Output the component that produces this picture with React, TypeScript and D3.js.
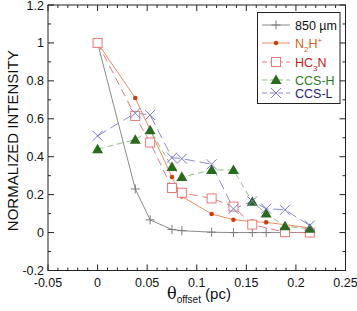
import React from "react";
import * as d3 from "d3";

// offsets (pc) for each series
const xAll = [0, 0.038, 0.053, 0.075, 0.085, 0.115, 0.137, 0.156, 0.17, 0.189, 0.214];
const x850 = xAll;
const y850 = [1, 0.23, 0.067, 0.016, 0.01, 0.002, 0, 0, 0, 0, 0];
const xN2H = [0, 0.038, 0.075, 0.085, 0.115, 0.137, 0.156, 0.17, 0.214];
const yN2H = [1, 0.71, 0.293, 0.19, 0.098, 0.068, 0.058, 0.054, 0.025];
const xHC3N = [0, 0.038, 0.053, 0.075, 0.085, 0.115, 0.137, 0.156, 0.189, 0.214];
const yHC3N = [1, 0.615, 0.475, 0.235, 0.21, 0.18, 0.137, 0.042, 0.002, 0];
const xCCSH = xAll;
const yCCSH = [0.44, 0.49, 0.54, 0.346, 0.293, 0.33, 0.33, 0.162, 0.1, 0.033, 0.02];
const xCCSL = xAll;
const yCCSL = [0.51, 0.63, 0.62, 0.395, 0.39, 0.36, 0.125, 0.165, 0.126, 0.12, 0.037];

const xTicks = [-0.05, 0, 0.05, 0.1, 0.15, 0.2, 0.25];
const xTickLabels = ["-0.05", "0", "0.05", "0.1", "0.15", "0.2", "0.25"];
const yTicks = [-0.2, 0, 0.2, 0.4, 0.6, 0.8, 1, 1.2];
const yTickLabels = ["-0.2", "0", "0.2", "0.4", "0.6", "0.8", "1", "1.2"];

const W = 357;
const H = 311;
const m = { left: 48, right: 345.5, top: 5, bottom: 270.5 };
const font = "'Liberation Sans', Arial, sans-serif";

const x = d3.scaleLinear().domain([-0.05, 0.25]).range([m.left, m.right]);
const y = d3.scaleLinear().domain([-0.2, 1.2]).range([m.bottom, m.top]);

const zip = (xs: number[], ys: number[]) => xs.map((v, i) => [v, ys[i]] as [number, number]);
const line = d3
  .line<[number, number]>()
  .x((d) => x(d[0]))
  .y((d) => y(d[1]));

const Plus = ({ cx, cy }: { cx: number; cy: number }) => (
  <path d={`M${cx - 4.5},${cy}H${cx + 4.5}M${cx},${cy - 4.5}V${cy + 4.5}`} stroke="#7a7a7a" strokeWidth={1} />
);
const Dot = ({ cx, cy }: { cx: number; cy: number }) => <circle cx={cx} cy={cy} r={2.3} fill="#c8400c" />;
const Sq = ({ cx, cy }: { cx: number; cy: number }) => (
  <rect x={cx - 4.5} y={cy - 4.5} width={9} height={9} fill="white" stroke="#e87878" strokeWidth={1} />
);
const Tri = ({ cx, cy }: { cx: number; cy: number }) => (
  <path d={`M${cx},${cy - 5.5}L${cx + 5.5},${cy + 4}L${cx - 5.5},${cy + 4}Z`} fill="#2a6a1e" />
);
const Cross = ({ cx, cy }: { cx: number; cy: number }) => (
  <path d={`M${cx - 5},${cy - 5}L${cx + 5},${cy + 5}M${cx - 5},${cy + 5}L${cx + 5},${cy - 5}`} stroke="#7878cc" strokeWidth={1} />
);

const series = [
  { xs: x850, ys: y850, color: "#8a8a8a", dash: "", M: Plus, width: 1 },
  { xs: xN2H, ys: yN2H, color: "#f08a60", dash: "", M: Dot, width: 1 },
  { xs: xHC3N, ys: yHC3N, color: "#e87878", dash: "8,5", M: Sq, width: 1 },
  { xs: xCCSH, ys: yCCSH, color: "#8cc080", dash: "6,4", M: Tri, width: 1 },
  { xs: xCCSL, ys: yCCSL, color: "#8a8ad6", dash: "10,5", M: Cross, width: 1 },
];

export default function App() {
  const xMinor = d3.range(-0.05, 0.2501, 0.01);
  const yMinor = d3.range(-0.2, 1.2001, 0.1);
  const legY = [25, 43, 62, 80, 93];
  const legLabelColor = ["#111", "#d0601c", "#c81818", "#2a7a22", "#22227a"];
  return (
    <svg width={W} height={H} style={{ position: "absolute", left: 0, top: 0 }} fontFamily={font}>
      <rect width={W} height={H} fill="white" />
      {/* lines and markers */}
      {series.map((s, i) => (
        <g key={i}>
          <path d={line(zip(s.xs, s.ys)) ?? ""} fill="none" stroke={s.color} strokeWidth={s.width} strokeDasharray={s.dash} />
        </g>
      ))}
      {series.map((s, i) => (
        <g key={"m" + i}>
          {zip(s.xs, s.ys).map((d, j) => (
            <s.M key={j} cx={x(d[0])} cy={y(d[1])} />
          ))}
        </g>
      ))}
      {/* frame */}
      <rect x={m.left} y={m.top} width={m.right - m.left} height={m.bottom - m.top} fill="none" stroke="#222" strokeWidth={1} />
      {xMinor.map((v, i) => {
        const big = i % 5 === 0;
        const l = big ? 6 : 3;
        return (
          <g key={"xt" + i} stroke="#222">
            <line x1={x(v)} x2={x(v)} y1={m.bottom} y2={m.bottom - l} />
            <line x1={x(v)} x2={x(v)} y1={m.top} y2={m.top + l} />
          </g>
        );
      })}
      {yMinor.map((v, i) => {
        const big = i % 2 === 0;
        const l = big ? 6 : 3;
        return (
          <g key={"yt" + i} stroke="#222">
            <line x1={m.left} x2={m.left + l} y1={y(v)} y2={y(v)} />
            <line x1={m.right} x2={m.right - l} y1={y(v)} y2={y(v)} />
          </g>
        );
      })}
      {xTicks.map((v, i) => (
        <text key={"xl" + i} x={x(v)} y={m.bottom + 16} textAnchor="middle" fontSize={12.5} fill="#111">
          {xTickLabels[i]}
        </text>
      ))}
      {yTicks.map((v, i) => (
        <text key={"yl" + i} x={m.left - 4} y={y(v) + 4.5} textAnchor="end" fontSize={12.5} fill="#111">
          {yTickLabels[i]}
        </text>
      ))}
      <text transform={`translate(18,${(m.top + m.bottom) / 2 + 3}) rotate(-90)`} textAnchor="middle" fontSize={15} fill="#111">
        NORMALIZED INTENSITY
      </text>
      <text x={199} y={299} textAnchor="middle" fontSize={15} fill="#111">
        <tspan fontFamily="'DejaVu Serif', serif" fontSize={16}>θ</tspan>
        <tspan fontSize={10} dy={4}>offset</tspan>
        <tspan dy={-4}> (pc)</tspan>
      </text>
      {/* legend */}
      <rect x={257.5} y={12.5} width={82.5} height={91} fill="white" stroke="#222" strokeWidth={1} />
      {series.map((s, i) => (
        <g key={"lg" + i}>
          <line x1={262} x2={290} y1={legY[i]} y2={legY[i]} stroke={s.color} strokeDasharray={s.dash ? "5,3" : ""} />
          <s.M cx={276} cy={legY[i]} />
        </g>
      ))}
      <text x={295} y={legY[0] + 4.5} fontSize={12.5} fill={legLabelColor[0]}>850 µm</text>
      <text x={295} y={legY[1] + 4.5} fontSize={12.5} fill={legLabelColor[1]}>
        N<tspan fontSize={8} dy={4}>2</tspan><tspan dy={-4}>H</tspan><tspan fontSize={8} dy={-5}>+</tspan>
      </text>
      <text x={295} y={legY[2] + 4.5} fontSize={12.5} fill={legLabelColor[2]}>
        HC<tspan fontSize={8} dy={4}>3</tspan><tspan dy={-4}>N</tspan>
      </text>
      <text x={295} y={legY[3] + 4.5} fontSize={12.5} fill={legLabelColor[3]}>CCS-H</text>
      <text x={295} y={legY[4] + 4.5} fontSize={12.5} fill={legLabelColor[4]}>CCS-L</text>
    </svg>
  );
}
